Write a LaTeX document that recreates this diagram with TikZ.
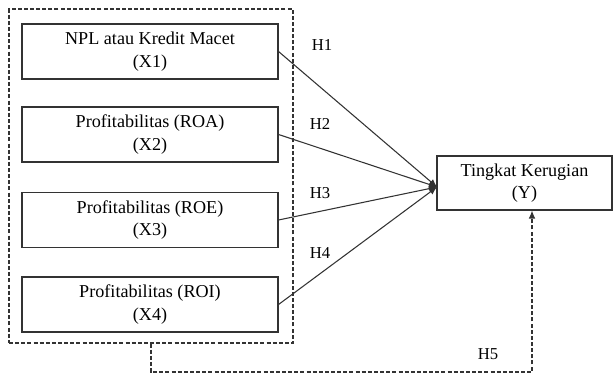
\documentclass[tikz,border=0pt]{standalone}
\usepackage{fontspec}
\setmainfont{Liberation Serif}
\newfontfamily\timesfont{Liberation Serif}
\usetikzlibrary{arrows.meta}

\begin{document}
\begin{tikzpicture}[x=0.75pt, y=-0.75pt, line width=0.8pt,
	every node/.style={font=\timesfont\fontsize{13.6}{17}\selectfont},
	var/.style={rectangle, draw=black!80, align=center, minimum width=192pt, minimum height=41.25pt},
	hyp/.style={font=\timesfont\fontsize{12.5}{15}\selectfont},
	dash line/.style={dash pattern=on 3pt off 1.6pt},
	link/.style={draw=black!80, -{Latex[length=6pt,width=5pt]}}]
			\useasboundingbox (0,0) rectangle (614,373);
			
			\node[var] (x1) at (150,51.5){NPL atau Kredit Macet\\(X1)};
			\node[var] (x2) at (150,134.5){Profitabilitas (ROA)\\(X2)};
			\node[var] (x3) at (150,220){Profitabilitas (ROE)\\(X3)};
			\node[var] (x4) at (150,304.5){Profitabilitas (ROI)\\(X4)};
			\node[var, minimum width=131.25pt, minimum height=40.5pt] (y) at (524.5,183){Tingkat Kerugian\\(Y)};
			
			\node[rectangle, draw=black!80, dash line, minimum width=213pt, minimum height=250.5pt] (box) at (151,176){};
			
			\coordinate (hit) at (437,187);
			\coordinate (corner) at (532,372);
			
			\node[hyp] (h1) at (322,45){H1};
			\node[hyp] (h2) at (320,124){H2};
			\node[hyp] (h3) at (320,193){H3};
			\node[hyp] (h4) at (320,253){H4};
			\node[hyp] (h5) at (488,354){H5};
			
			\draw[link] (x1.east) -- (hit);
			\draw[link] (x2.east) -- (hit);
			\draw[link] (x3.east) -- (hit);
			\draw[link] (x4.east) -- (hit);
			\draw[link, dash line] (box.south) |- (corner) -- (corner |- y.south);
\end{tikzpicture}
\end{document}
